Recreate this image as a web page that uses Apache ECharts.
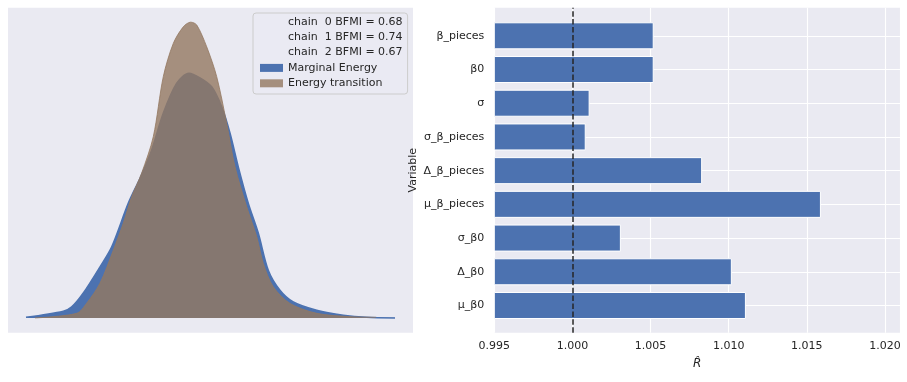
<!DOCTYPE html>
<html><head><meta charset="utf-8">
<script src="https://cdn.jsdelivr.net/npm/echarts@6/dist/echarts.min.js"></script>
<style>html,body{margin:0;padding:0;background:#fff}#c{width:907px;height:382px}</style>
</head><body><div id="c"></div>
<script>
// Left panel: energy densities
const marginalE = [-18.2,-14.47,-13.63,-12.47,-10.8,-9.63,-7.97,-6.8,-5.63,-4.47,-3.13,-1.9,-0.8,0.37,1.37,2.2,3.03,4.03,5.03,6.03,7.2,8.53,10.87,13.53,15.87,18.7];
const marginalDensity = [0.0002,0.0022,0.0036,0.0081,0.0166,0.0231,0.0373,0.0454,0.0546,0.0666,0.0763,0.0795,0.0780,0.0751,0.0686,0.0601,0.0491,0.0373,0.0276,0.0155,0.0090,0.0052,0.0025,0.0009,0.0002,0.0000];
const transitionE = [-17.3,-13.13,-12.13,-10.8,-9.47,-8.47,-7.63,-6.63,-5.47,-4.47,-3.47,-2.47,-1.73,-1.13,-0.13,0.87,1.87,2.7,3.87,4.87,5.53,6.53,8.2,10.87,14.2,16.8];
const transitionDensity = [0.0000,0.0015,0.0048,0.0113,0.0220,0.0308,0.0394,0.0471,0.0589,0.0784,0.0892,0.0946,0.0961,0.0952,0.0881,0.0784,0.0632,0.0491,0.0361,0.0264,0.0177,0.0101,0.0047,0.0015,0.0004,0.0002];
const chainLabels = ["chain  0 BFMI = 0.68","chain  1 BFMI = 0.74","chain  2 BFMI = 0.67"];
const energyNames = ["Marginal Energy","Energy transition"];

// Right panel: R-hat
const variables = ["β_pieces","β0","σ","σ_β_pieces","Δ_β_pieces","μ_β_pieces","σ_β0","Δ_β0","μ_β0"];
const rhatValues = [1.0052,1.0052,1.0011,1.00085,1.0083,1.0159,1.0031,1.0102,1.0111];
const rhatTicks = [0.995,1.000,1.005,1.010,1.015,1.020];
const refLine = 1.0;

const FONT = 'DejaVu Sans';
const TXT = '#262626';
const BG = '#EAEAF2';
const BLUE = '#4C72B0';
const BROWN = 'rgba(147,120,96,0.8)';

const zip = (a,b)=>a.map((v,i)=>[v,b[i]]);

const xMin = rhatTicks[0], xMax = 1.02096;
const plotL = 494.3, plotW = 405.7;

const chart = echarts.init(document.getElementById('c'), null, {renderer:'canvas'});
const option = {
  animation:false,
  textStyle:{fontFamily:FONT},
  grid:[
    {left:8, top:7.7, width:405, height:325, show:true, backgroundColor:BG, borderWidth:0},
    {left:plotL, top:7.7, width:plotW, height:325, show:true, backgroundColor:BG, borderWidth:0},
    {left:plotL, top:35.8, width:plotW, height:269.7, show:false},
    {left:plotL, top:18.95, width:plotW, height:303.4, show:false}
  ],
  xAxis:[
    {gridIndex:0, type:'value', min:-20, max:20.5, show:false},
    {gridIndex:1, type:'value', min:xMin, max:xMax, interval:0.005,
      axisLine:{show:false}, axisTick:{show:false},
      splitLine:{show:true, lineStyle:{color:'#fff', width:1.1}},
      axisLabel:{color:TXT, fontSize:11, fontFamily:FONT, margin:8, showMaxLabel:false,
        formatter:v=>{ const k=Math.round((v-xMin)/0.005); return Math.abs(xMin+k*0.005-v)<1e-9 ? v.toFixed(3) : ''; }},
      name:'R\u0302', nameLocation:'middle', nameGap:25,
      nameTextStyle:{color:TXT, fontSize:12, fontStyle:'italic', fontFamily:FONT}},
    {gridIndex:2, type:'value', min:xMin, max:xMax, show:false},
    {gridIndex:3, type:'value', min:xMin, max:xMax, show:false}
  ],
  yAxis:[
    {gridIndex:0, type:'value', min:-0.0048, max:0.1008, show:false},
    {gridIndex:1, type:'value', min:0, max:1, axisLine:{show:false}, axisTick:{show:false},
      axisLabel:{show:false}, splitLine:{show:false},
      name:'Variable', nameLocation:'middle', nameGap:76,
      nameTextStyle:{color:TXT, fontSize:11, fontFamily:FONT}},
    {gridIndex:2, type:'value', min:0, max:8, interval:1, axisLine:{show:false}, axisTick:{show:false},
      axisLabel:{show:false}, splitLine:{show:true, lineStyle:{color:'#fff', width:1.1}}},
    {gridIndex:3, type:'category', data:variables, inverse:true, boundaryGap:true,
      axisLine:{show:false}, axisTick:{show:false}, splitLine:{show:false},
      axisLabel:{color:TXT, fontSize:11, fontFamily:FONT, margin:10}}
  ],
  legend:{
    orient:'vertical', left:253, top:13, padding:[1,5,3,7],
    itemWidth:23, itemHeight:8, itemGap:0, selectedMode:false,
    backgroundColor:'rgba(234,234,242,0.8)', borderColor:'#cccccc', borderWidth:1, borderRadius:3,
    textStyle:{color:TXT, fontSize:11, fontFamily:FONT, lineHeight:15.4},
    data:[
      ...chainLabels.map(n=>({name:n, icon:'none', itemStyle:{color:'transparent'}})),
      {name:energyNames[0], icon:'rect', itemStyle:{color:BLUE, borderWidth:0}},
      {name:energyNames[1], icon:'rect', itemStyle:{color:BROWN, borderWidth:0}}
    ]
  },
  series:[
    ...chainLabels.map(n=>({name:n, type:'line', xAxisIndex:0, yAxisIndex:0, data:[], symbol:'none'})),
    {name:energyNames[0], type:'line', xAxisIndex:0, yAxisIndex:0, smooth:0.3, symbol:'none',
      data:zip(marginalE, marginalDensity),
      lineStyle:{color:BLUE, width:1.5}, itemStyle:{color:BLUE},
      areaStyle:{color:BLUE, opacity:1}, z:2},
    {name:energyNames[1], type:'line', xAxisIndex:0, yAxisIndex:0, smooth:0.3, symbol:'none',
      data:zip(transitionE, transitionDensity),
      lineStyle:{color:BROWN, width:1}, itemStyle:{color:BROWN},
      areaStyle:{color:BROWN, opacity:1}, z:3},
    {name:'rhat', type:'bar', xAxisIndex:3, yAxisIndex:3, data:rhatValues, barWidth:27,
      itemStyle:{color:BLUE, borderColor:'#fff', borderWidth:1}, z:4},
    {name:'ref', type:'line', xAxisIndex:1, yAxisIndex:1, data:[], z:10,
      markLine:{symbol:'none', silent:true, label:{show:false},
        lineStyle:{color:TXT, width:1.5, type:[5.5,2.4]},
        data:[{xAxis:refLine}]}}
  ]
};
chart.setOption(option);
</script></body></html>
